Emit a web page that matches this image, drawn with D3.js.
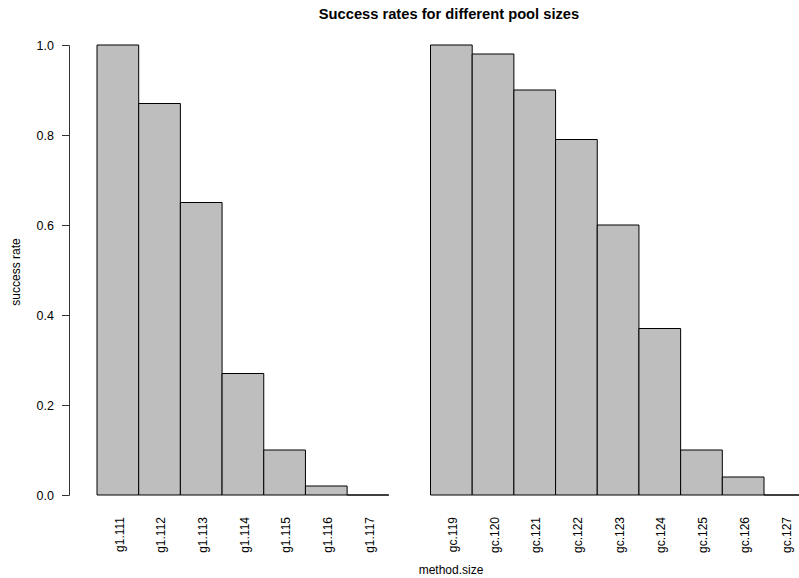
<!DOCTYPE html>
<html>
<head>
<meta charset="utf-8">
<script src="https://cdn.jsdelivr.net/npm/d3@7"></script>
<style>
  html, body { margin: 0; padding: 0; background: #fff; overflow: hidden; }
  svg { display: block; font-family: "Liberation Sans", Arial, Helvetica, sans-serif; }
</style>
</head>
<body>
<svg id="chart" width="799" height="578"></svg>
<script>
// Success rate per method.size; the empty slot separates the g1 and gc groups.
const categories = ["g1.111", "g1.112", "g1.113", "g1.114", "g1.115", "g1.116", "g1.117",
                    "", "gc.119", "gc.120", "gc.121", "gc.122", "gc.123", "gc.124",
                    "gc.125", "gc.126", "gc.127"];
const successRate = [1.00, 0.87, 0.65, 0.27, 0.10, 0.02, 0.00,
                     null, 1.00, 0.98, 0.90, 0.79, 0.60, 0.37,
                     0.10, 0.04, 0.00];
const yTicks = [0.0, 0.2, 0.4, 0.6, 0.8, 1.0];

const svg = d3.select("#chart");

const x = d3.scaleBand()
  .domain(d3.range(categories.length))
  .range([97, 805.7])
  .padding(0);

const y = d3.scaleLinear().domain([0, 1]).range([495, 45]);

// bars drawn as closed paths so zero-height bars still show their outline
svg.append("g")
  .selectAll("path")
  .data(categories.map((c, i) => ({ c, i, v: successRate[i] })).filter(d => d.v !== null))
  .join("path")
  .attr("d", d => {
    const x0 = x(d.i), x1 = x0 + x.bandwidth();
    const y0 = y(0), y1 = y(d.v);
    return `M${x0},${y0}V${y1}H${x1}V${y0}Z`;
  })
  .attr("fill", "#bebebe")
  .attr("stroke", "#000")
  .attr("stroke-width", 1);

// y axis
const yAxis = svg.append("g")
  .attr("transform", "translate(69,0)")
  .call(d3.axisLeft(y).tickValues(yTicks).tickFormat(d3.format(".1f")).tickSize(7).tickPadding(8));
yAxis.select(".domain").attr("stroke", "#333");
yAxis.selectAll(".tick line").attr("stroke", "#333");
yAxis.selectAll("text").attr("font-size", 12.5).attr("fill", "#000")
  .attr("font-family", "'Liberation Sans', Arial, sans-serif");

// x category labels, vertical
svg.append("g")
  .selectAll("text")
  .data(categories.map((c, i) => ({ c, i })).filter(d => d.c !== ""))
  .join("text")
  .attr("transform", d => `translate(${x(d.i) + x.bandwidth() / 2 + 1.5},517) rotate(-90)`)
  .attr("text-anchor", "end")
  .attr("dy", "0.35em")
  .attr("font-size", 12)
  .attr("fill", "#000")
  .text(d => d.c);

// titles
svg.append("text")
  .attr("x", 449).attr("y", 19)
  .attr("text-anchor", "middle")
  .attr("font-size", 14.7)
  .attr("font-weight", "bold")
  .attr("fill", "#000")
  .text("Success rates for different pool sizes");

svg.append("text")
  .attr("x", 451).attr("y", 574)
  .attr("text-anchor", "middle")
  .attr("font-size", 12)
  .attr("fill", "#000")
  .text("method.size");

svg.append("text")
  .attr("transform", "translate(20,272) rotate(-90)")
  .attr("text-anchor", "middle")
  .attr("font-size", 12)
  .attr("fill", "#000")
  .text("success rate");
</script>
</body>
</html>
